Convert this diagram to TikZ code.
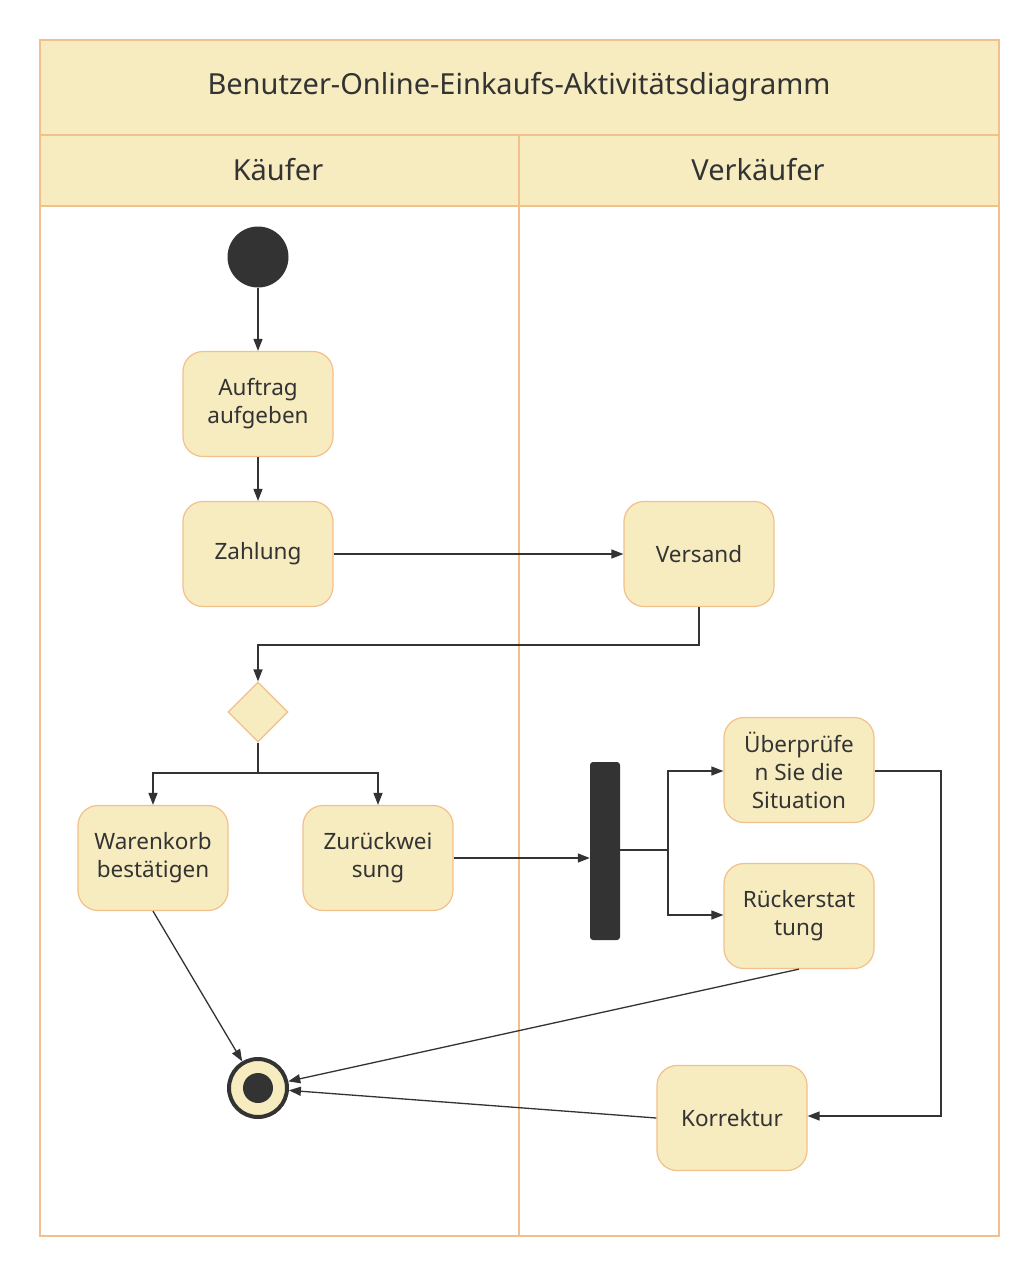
\documentclass[tikz,border=0pt]{standalone}
\usepackage{fontspec}
\setmainfont{Noto Sans}
\usetikzlibrary{arrows.meta,shapes.geometric}
\definecolor{cream}{HTML}{F6ECC0}
\definecolor{edge}{HTML}{F3C08A}
\definecolor{dark}{HTML}{333333}
\tikzset{
  act/.style={draw=edge, fill=cream, line width=1.2pt, rounded corners=20pt, minimum width=150pt, minimum height=105pt, align=center, text=dark, font=\fontsize{22.5}{28}\selectfont, inner sep=2pt},
  conn/.style={draw=dark, line width=1.3pt, -{Triangle[length=12pt,width=9pt]}},
  plain/.style={draw=dark, line width=1.3pt},
  lane/.style={draw=edge, line width=1.2pt},
  hdr/.style={text=dark, font=\fontsize{29}{34}\selectfont}
}
\begin{document}
\begin{tikzpicture}[x=1pt,y=-1pt]
\useasboundingbox (0,0) rectangle (1035,1272);
\fill[white] (0,0) rectangle (1035,1272);
% frame and lanes
\path[lane, fill=cream] (40,40) rectangle (999,206);
\draw[lane] (40,40) rectangle (999,1236);
\draw[lane] (40,135) -- (999,135);
\draw[lane] (40,206) -- (999,206);
\draw[lane] (519,135) -- (519,1236);
\node[hdr] (title) at (519,87) {Benutzer-Online-Einkaufs-Aktivitätsdiagramm};
\node[hdr] (kaeufer) at (278,170) {Käufer};
\node[hdr] (verkaeufer) at (758,170) {Verkäufer};
% nodes
\node[circle, fill=dark, minimum size=61pt, inner sep=0pt] (start) at (258,257) {};
\node[act] (auftrag) at (258,404) {Auftrag\\aufgeben};
\node[act] (zahlung) at (258,554) {Zahlung};
\node[act] (versand) at (699,554) {Versand};
\node[diamond, draw=edge, fill=cream, line width=1.2pt, minimum size=60pt, inner sep=0pt] (dec) at (258,712) {};
\node[act] (warenkorb) at (153,858) {Warenkorb\\bestätigen};
\node[act] (zurueck) at (378,858) {Zurückwei\\sung};
\node[fill=dark, rounded corners=3pt, minimum width=30pt, minimum height=178pt, inner sep=0pt] (fork) at (605,851) {};
\node[act] (pruefen) at (799,770) {Überprüfe\\n Sie die\\Situation};
\node[act] (rueck) at (799,916) {Rückerstat\\tung};
\node[act] (korr) at (732,1118) {Korrektur};
\node[circle, draw=dark, fill=cream, line width=4pt, minimum size=58pt, inner sep=0pt] (end) at (258,1088) {};
\node[circle, fill=dark, minimum size=30pt, inner sep=0pt] (endin) at (258,1088) {};
% connectors
\coordinate (c1) at (699,645);
\coordinate (c2) at (258,645);
\coordinate (c3) at (258,773);
\coordinate (c4) at (153,773);
\coordinate (c5) at (378,773);
\coordinate (c6) at (668,850);
\coordinate (c7) at (668,771);
\coordinate (c8) at (668,915);
\coordinate (c9) at (941,771);
\coordinate (c10) at (941,1116);
\draw[conn] (start) -- (auftrag);
\draw[conn] (auftrag) -- (zahlung);
\draw[conn] (zahlung) -- (versand);
\draw[conn] (versand.south) -- (c1) -- (c2) -- (dec.north);
\draw[plain] (dec.south) -- (c3);
\draw[conn] (c3) -- (c4) -- (warenkorb.north);
\draw[conn] (c3) -- (c5) -- (zurueck.north);
\draw[conn] (zurueck.east) -- (fork.west |- zurueck.east);
\draw[plain] (fork.east |- c6) -- (c6);
\draw[conn] (c6) -- (c7) -- (pruefen.west |- c7);
\draw[conn] (c6) -- (c8) -- (rueck.west |- c8);
\draw[conn] (pruefen.east |- c9) -- (c9) -- (c10) -- (korr.east |- c10);
\draw[conn] (warenkorb.south) -- (end);
\draw[conn] (rueck.south) -- (end);
\draw[conn] (korr.west) -- (end);
\end{tikzpicture}
\end{document}
